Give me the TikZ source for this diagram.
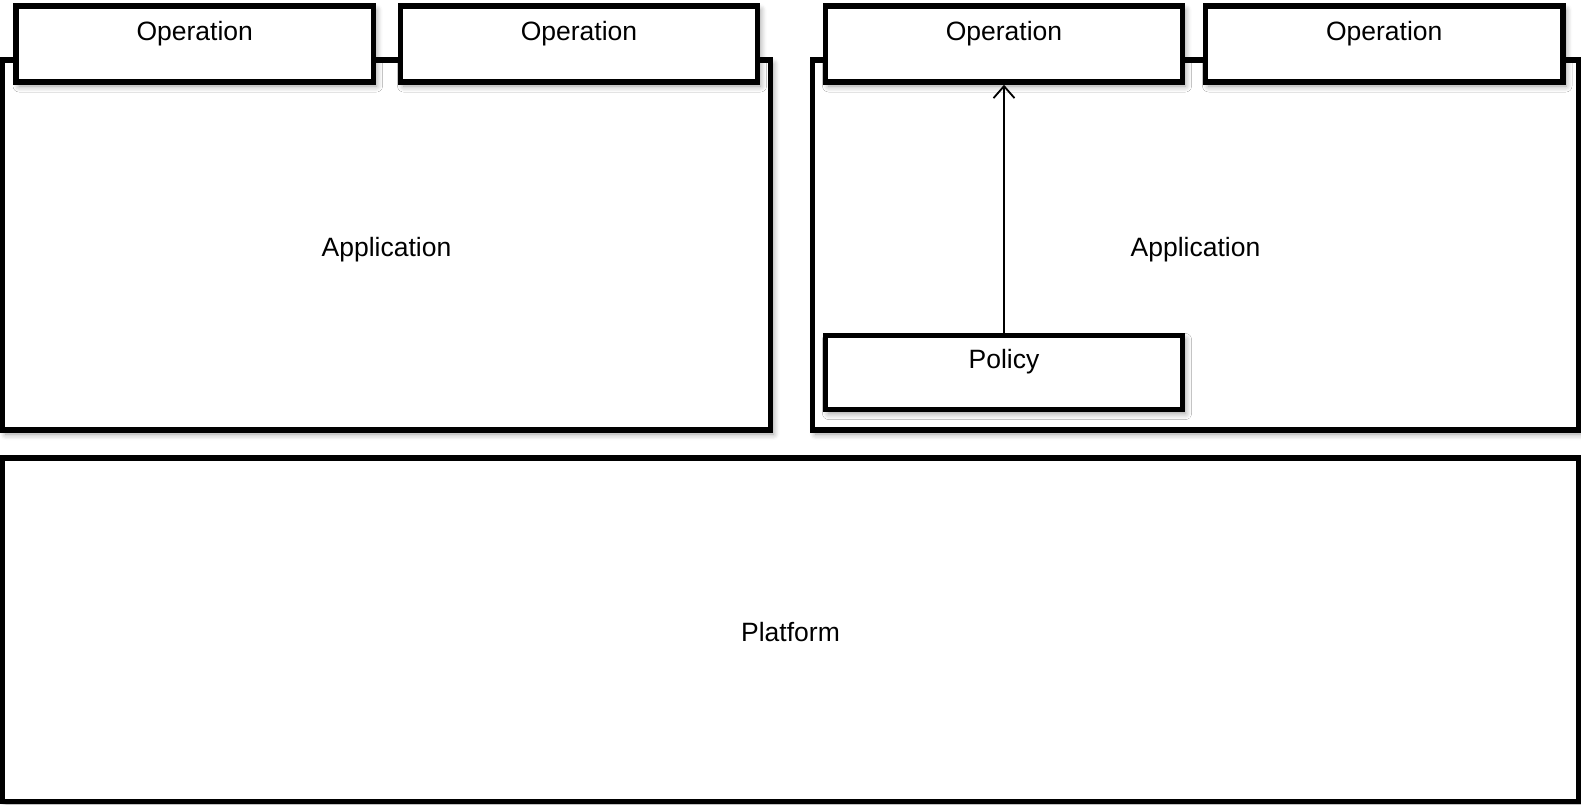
\documentclass[tikz,border=0pt]{standalone}
\usepackage{fontspec}
\setmainfont{Liberation Sans}
\usetikzlibrary{arrows.meta,shadows.blur}

\begin{document}
\begin{tikzpicture}[x=1pt,y=-1pt,
    box/.style={draw,line width=5.5pt,fill=white,inner sep=0pt,
      font=\fontsize{26.5}{30}\selectfont,
      blur shadow={shadow xshift=3pt,shadow yshift=-4pt,shadow blur radius=6pt,shadow blur steps=6,shadow opacity=40}},
    midtext/.style={text height=29pt,text depth=5.5pt},
    toptext/.style={text height=20pt,text depth=28pt},
    opbox/.style={box,toptext,minimum width=357pt,minimum height=76pt}]
  \node[box,midtext,minimum width=768pt,minimum height=370pt] (appL) at (386.5,245) {Application};
  \node[box,midtext,minimum width=766pt,minimum height=370pt] (appR) at (1195.5,245) {Application};
  \node[box,midtext,minimum width=1576pt,minimum height=343.5pt] (platform) at (790.5,629.75) {Platform};
  \node[opbox,minimum width=357.5pt] (opA) at (194.75,44) {Operation};
  \node[opbox] (opB) at (579,44) {Operation};
  \node[opbox] (opC) at (1004,44) {Operation};
  \node[opbox,minimum width=357.5pt] (opD) at (1384.25,44) {Operation};
  \node[opbox,minimum height=74pt] (policy) at (1004,372.5) {Policy};
  \draw[line width=1.8pt,-{Straight Barb[length=12pt,width=21pt,line width=1.8pt]}] (policy.north) -- (opC.south);
  \pgfresetboundingbox
  \useasboundingbox (0,0) rectangle (1581,804);
\end{tikzpicture}
\end{document}
